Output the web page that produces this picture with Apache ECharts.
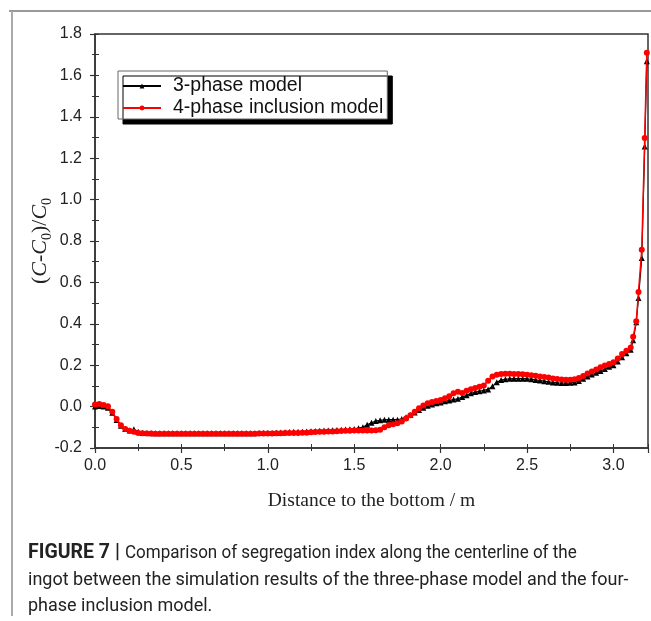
<!DOCTYPE html>
<html>
<head>
<meta charset="utf-8">
<script src="https://cdn.jsdelivr.net/npm/echarts@6/dist/echarts.min.js"></script>
<style>
html,body{margin:0;padding:0;background:#fff;}
#chart{width:651px;height:621px;}
</style>
</head>
<body>
<div id="chart"></div>
<script>
// Distance to the bottom (m)
const distance = [
  0, 0.025, 0.05, 0.075, 0.1, 0.125, 0.15, 0.175, 0.2, 0.225,
  0.25, 0.275, 0.3, 0.325, 0.35, 0.375, 0.4, 0.425, 0.45, 0.475,
  0.5, 0.525, 0.55, 0.575, 0.6, 0.625, 0.65, 0.675, 0.7, 0.725,
  0.75, 0.775, 0.8, 0.825, 0.85, 0.875, 0.9, 0.925, 0.95, 0.975,
  1.0, 1.025, 1.05, 1.075, 1.1, 1.125, 1.15, 1.175, 1.2, 1.225,
  1.25, 1.275, 1.3, 1.325, 1.35, 1.375, 1.4, 1.425, 1.45, 1.475,
  1.5, 1.525, 1.55, 1.575, 1.6, 1.625, 1.65, 1.675, 1.7, 1.725,
  1.75, 1.775, 1.8, 1.825, 1.85, 1.875, 1.9, 1.925, 1.95, 1.975,
  2.0, 2.025, 2.05, 2.075, 2.1, 2.125, 2.15, 2.175, 2.2, 2.225,
  2.25, 2.275, 2.3, 2.325, 2.35, 2.375, 2.4, 2.425, 2.45, 2.475,
  2.5, 2.525, 2.55, 2.575, 2.6, 2.625, 2.65, 2.675, 2.7, 2.725,
  2.75, 2.775, 2.8, 2.825, 2.85, 2.875, 2.9, 2.925, 2.95, 2.975,
  3.0, 3.025, 3.05, 3.075, 3.1,
  3.114, 3.132, 3.145, 3.164, 3.181, 3.193
];
// 3-phase model
const threePhase = [
  0.000, 0.003, 0.000, -0.005, -0.030, -0.065, -0.092, -0.108, -0.116, -0.110,
  -0.122, -0.127, -0.128, -0.129, -0.129, -0.129, -0.129, -0.129, -0.129, -0.129,
  -0.129, -0.129, -0.129, -0.129, -0.129, -0.129, -0.129, -0.129, -0.129, -0.129,
  -0.129, -0.129, -0.129, -0.129, -0.129, -0.129, -0.129, -0.129, -0.128, -0.128,
  -0.128, -0.127, -0.126, -0.125, -0.124, -0.123, -0.122, -0.121, -0.121, -0.120,
  -0.119, -0.118, -0.117, -0.116, -0.115, -0.114, -0.113, -0.112, -0.111, -0.110,
  -0.108, -0.104, -0.100, -0.088, -0.078, -0.070, -0.066, -0.064, -0.063, -0.063,
  -0.063, -0.060, -0.052, -0.040, -0.028, -0.016, -0.006, 0.004, 0.010, 0.016,
  0.020, 0.026, 0.030, 0.034, 0.038, 0.046, 0.055, 0.064, 0.070, 0.074,
  0.078, 0.083, 0.098, 0.118, 0.128, 0.132, 0.134, 0.135, 0.135, 0.135,
  0.134, 0.132, 0.129, 0.126, 0.123, 0.120, 0.117, 0.115, 0.114, 0.114,
  0.115, 0.117, 0.124, 0.134, 0.145, 0.155, 0.163, 0.172, 0.182, 0.192,
  0.200, 0.218, 0.238, 0.258, 0.275,
  0.320, 0.407, 0.525, 0.718, 1.257, 1.668
];
// 4-phase inclusion model
const fourPhase = [
  0.010, 0.012, 0.008, 0.002, -0.025, -0.060, -0.090, -0.108, -0.117, -0.122,
  -0.127, -0.129, -0.130, -0.130, -0.131, -0.131, -0.131, -0.131, -0.131, -0.131,
  -0.131, -0.131, -0.131, -0.131, -0.131, -0.131, -0.131, -0.131, -0.131, -0.131,
  -0.131, -0.131, -0.131, -0.131, -0.131, -0.131, -0.131, -0.131, -0.130, -0.130,
  -0.130, -0.130, -0.129, -0.129, -0.128, -0.128, -0.127, -0.127, -0.126, -0.126,
  -0.124, -0.123, -0.122, -0.121, -0.120, -0.120, -0.119, -0.118, -0.117, -0.117,
  -0.116, -0.116, -0.115, -0.115, -0.115, -0.114, -0.112, -0.100, -0.090, -0.085,
  -0.080, -0.072, -0.058, -0.042, -0.025, -0.008, 0.005, 0.016, 0.022, 0.027,
  0.032, 0.040, 0.050, 0.065, 0.072, 0.066, 0.076, 0.084, 0.090, 0.096,
  0.102, 0.125, 0.145, 0.154, 0.157, 0.159, 0.159, 0.158, 0.157, 0.156,
  0.154, 0.152, 0.149, 0.146, 0.143, 0.140, 0.136, 0.133, 0.131, 0.130,
  0.130, 0.132, 0.138, 0.148, 0.160, 0.170, 0.179, 0.190, 0.198, 0.206,
  0.214, 0.232, 0.254, 0.270, 0.285,
  0.337, 0.412, 0.554, 0.758, 1.298, 1.709
];
const seriesNames = ['3-phase model', '4-phase inclusion model'];
const xAxisTitle = 'Distance to the bottom / m';
const captionLines = [
  'Comparison of segregation index along the centerline of the',
  'ingot between the simulation results of the three-phase model and the four-',
  'phase inclusion model.'
];
const captionLabel = 'FIGURE 7 |';

const pair = (ys) => distance.map((x, i) => [x, ys[i]]);
const SANS = '"Liberation Sans", Arial, sans-serif';
const SERIF = '"Liberation Serif", "Times New Roman", serif';

const chart = echarts.init(document.getElementById('chart'), null, {renderer: 'canvas'});
const fmt1 = v => (Math.abs(v - 3.2) < 1e-9 ? '' : v.toFixed(1));

const option = {
  backgroundColor: '#fff',
  animation: false,
  grid: {left: 95, right: 1, top: 34, bottom: 173, show: true, borderColor: '#333', borderWidth: 1.5},
  legend: {
    orient: 'vertical', left: 118, top: 71,
    data: seriesNames,
    itemWidth: 38, itemHeight: 6, itemGap: 0,
    padding: [4, 4, 0, 4],
    backgroundColor: '#fff', borderColor: '#666', borderWidth: 1,
    shadowColor: '#000', shadowOffsetX: 5, shadowOffsetY: 5, shadowBlur: 0.01,
    textStyle: {fontFamily: SANS, fontSize: 19.5, color: '#111', lineHeight: 22, padding: [0, 0, 0, 7]}
  },
  xAxis: [{
    type: 'value', min: 0, max: 3.2, interval: 0.5, position: 'bottom',
    axisLine: {show: true, onZero: false, lineStyle: {color: '#333', width: 1.5}},
    axisTick: {show: true, length: 5, lineStyle: {color: '#333', width: 1.2}},
    minorTick: {show: true, splitNumber: 2, length: 3, lineStyle: {color: '#333', width: 1}},
    splitLine: {show: false},
    axisLabel: {formatter: fmt1, fontFamily: SANS, fontSize: 16, color: '#222', margin: 10},
    name: xAxisTitle, nameLocation: 'middle', nameGap: 43,
    nameTextStyle: {fontFamily: SERIF, fontSize: 19.5, color: '#222'}
  }, {
    type: 'value', min: 0, max: 3.2, interval: 0.25, position: 'bottom', offset: 0,
    axisLine: {show: false, onZero: false},
    axisTick: {show: true, inside: true, length: 4, lineStyle: {color: '#333', width: 1}},
    axisLabel: {show: false}, splitLine: {show: false}
  }],
  yAxis: [{
    type: 'value', min: -0.2, max: 1.8, interval: 0.2, position: 'left',
    axisLine: {show: true, onZero: false, lineStyle: {color: '#333', width: 1.5}},
    axisTick: {show: true, length: 5, lineStyle: {color: '#333', width: 1.2}},
    minorTick: {show: true, splitNumber: 2, length: 3, lineStyle: {color: '#333', width: 1}},
    splitLine: {show: false},
    axisLabel: {formatter: v => v.toFixed(1), fontFamily: SANS, fontSize: 16, color: '#222', margin: 13},
    name: '{p|(}{i|C}{p|-}{i|C}{s|0}{p|)/}{i|C}{s|0}',
    nameLocation: 'middle', nameRotate: 90, nameGap: 41, nameMoveOverlap: false,
    nameTextStyle: {
      rich: {
        p: {fontFamily: SERIF, fontSize: 22, color: '#222', lineHeight: 28},
        i: {fontFamily: SERIF, fontSize: 22, fontStyle: 'italic', color: '#222', lineHeight: 28},
        s: {fontFamily: SERIF, fontSize: 14, color: '#222', lineHeight: 15, verticalAlign: 'bottom'}
      }
    }
  }, {
    type: 'value', min: -0.2, max: 1.8, interval: 0.1, position: 'left', offset: 0,
    axisLine: {show: false, onZero: false},
    axisTick: {show: true, inside: true, length: 4, lineStyle: {color: '#333', width: 1}},
    axisLabel: {show: false}, splitLine: {show: false}
  }],
  series: [{
    name: seriesNames[0], type: 'line', xAxisIndex: 0, yAxisIndex: 0,
    data: pair(threePhase),
    symbol: 'triangle', symbolSize: 6, showAllSymbol: true,
    lineStyle: {color: '#000', width: 1.2}, itemStyle: {color: '#000'}, z: 2
  }, {
    name: seriesNames[1], type: 'line', xAxisIndex: 0, yAxisIndex: 0,
    data: pair(fourPhase),
    symbol: 'circle', symbolSize: 6, showAllSymbol: true,
    lineStyle: {color: '#f00', width: 1.5}, itemStyle: {color: '#f00'}, z: 3
  }],
  graphic: [
    {type: 'line', shape: {x1: 9, y1: 11, x2: 651, y2: 11}, style: {stroke: '#777', lineWidth: 1.5}, silent: true},
    {type: 'line', shape: {x1: 12, y1: 11, x2: 12, y2: 616}, style: {stroke: '#aaa', lineWidth: 2}, silent: true},
    {type: 'text', x: 28, y: 553, style: {
      text: captionLabel, fontFamily: 'Roboto', fontWeight: 'bold', fontSize: 19.5, fill: '#222', verticalAlign: 'middle'}},
    {type: 'text', x: 125, y: 553, scaleX: 0.945, style: {
      text: captionLines[0], fontFamily: 'Roboto', fontSize: 18, fill: '#222', verticalAlign: 'middle'}},
    {type: 'text', x: 28, y: 580, style: {text: captionLines[1], fontFamily: 'Roboto', fontSize: 18, fill: '#222', verticalAlign: 'middle'}},
    {type: 'text', x: 28, y: 606, style: {text: captionLines[2], fontFamily: 'Roboto', fontSize: 18, fill: '#222', verticalAlign: 'middle'}}
  ]
};
chart.setOption(option);
</script>
</body>
</html>
